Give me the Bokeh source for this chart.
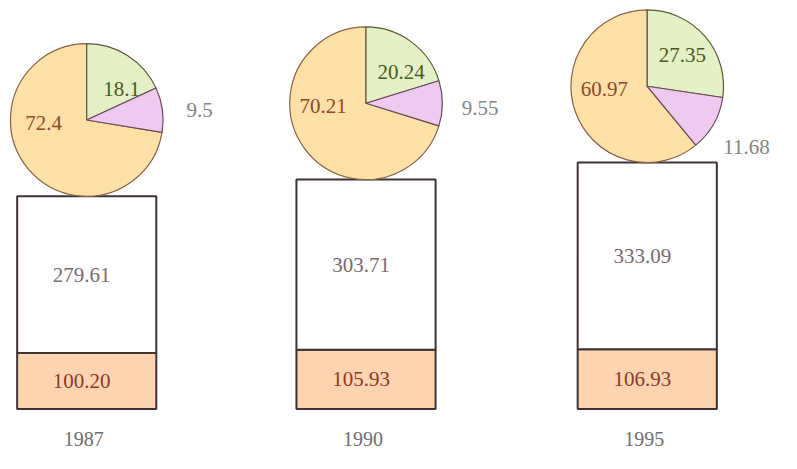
import math
from bokeh.plotting import figure
from bokeh.models import Range1d
from bokeh.core.properties import value
from bokeh.embed import file_html
from bokeh.resources import INLINE

# ---- data ----
years = ["1987", "1990", "1995"]
lower_values = [100.20, 105.93, 106.93]      # orange (bottom) bar segment
upper_values = [279.61, 303.71, 333.09]      # white (top) bar segment
pie_green = [18.1, 20.24, 27.35]
pie_purple = [9.5, 9.55, 11.68]
pie_orange = [72.4, 70.21, 60.97]

# ---- layout ----
PLOT_W, PLOT_H = 781, 453
REF_W, REF_H = 797, 469
BAR_X = [88, 373, 660]
BAR_W = 142
K = 0.58               # ref px per unit
BASE_FROM_BOTTOM = 46  # ref px
R_REF = 79
R_PX = R_REF * PLOT_H / REF_H
FONT = value("Liberation Serif")

y_start = -BASE_FROM_BOTTOM / K
y_end = y_start + REF_H / K

p = figure(width=PLOT_W, height=PLOT_H, output_backend="svg", toolbar_location=None,
           x_range=Range1d(0, REF_W), y_range=Range1d(y_start, y_end),
           min_border=0, background_fill_color="white", border_fill_color="white")
p.axis.visible = False
p.grid.visible = False
p.outline_line_color = None

totals = [a + b for a, b in zip(lower_values, upper_values)]

# bars
p.vbar(x=BAR_X, width=BAR_W, bottom=0, top=lower_values,
       fill_color="#FDD3B0", line_color="#3d3333", line_width=2)
p.vbar(x=BAR_X, width=BAR_W, bottom=lower_values, top=totals,
       fill_color="white", line_color="#3d3333", line_width=2)

# bar labels
p.text(x=BAR_X, y=[v / 2 for v in lower_values], text=[f"{v:.2f}" for v in lower_values],
       text_font=FONT, text_font_size="21px", text_color="#8B3A2A",
       text_align="center", text_baseline="middle", x_offset=-5)
p.text(x=BAR_X, y=[a + b / 2 for a, b in zip(lower_values, upper_values)],
       text=[f"{v:.2f}" for v in upper_values],
       text_font=FONT, text_font_size="21px", text_color="#7a6a70",
       text_align="center", text_baseline="middle", x_offset=-5)

# year labels
p.text(x=BAR_X, y=[0, 0, 0], text=years, text_font=FONT, text_font_size="20px",
       text_color="#6e6e6e", text_align="center", text_baseline="middle", y_offset=30,
       x_offset=-3)

# pies
cy = [t + R_REF / K for t in totals]
top = math.pi / 2
g_end = [top - 2 * math.pi * g / 100 for g in pie_green]
p_end = [top - 2 * math.pi * (g + q) / 100 for g, q in zip(pie_green, pie_purple)]
o_end = [top - 2 * math.pi for _ in pie_orange]

p.wedge(x=BAR_X, y=cy, radius=R_PX, radius_units="screen",
        start_angle=o_end, end_angle=p_end, fill_color="#FFE0A6",
        line_color="#8a6048", line_width=1.2)
p.wedge(x=BAR_X, y=cy, radius=R_PX, radius_units="screen",
        start_angle=g_end, end_angle=[top] * 3, fill_color="#E4F0C6",
        line_color="#5a5a3a", line_width=1.2)
p.wedge(x=BAR_X, y=cy, radius=R_PX, radius_units="screen",
        start_angle=p_end, end_angle=g_end, fill_color="#EECAEE",
        line_color="#6a4a5a", line_width=1.2)

# pie labels
p.text(x=BAR_X, y=cy, text=[str(v) for v in pie_green], text_font=FONT,
       text_font_size="21px", text_color="#4a5a22", text_align="center",
       text_baseline="middle", x_offset=35, y_offset=-31)
p.text(x=BAR_X, y=cy, text=[str(v) for v in pie_orange], text_font=FONT,
       text_font_size="21px", text_color="#8B4A2B", text_align="center",
       text_baseline="middle", x_offset=-43, y_offset=3)
mid = [(a + b) / 2 for a, b in zip(g_end, p_end)]
p.text(x=BAR_X, y=cy, text=[str(v) for v in pie_purple], text_font=FONT,
       text_font_size="21px", text_color="#858585", text_align="center",
       text_baseline="middle",
       x_offset=[114 * math.cos(m) for m in mid],
       y_offset=[-114 * math.sin(m) + 5 for m in mid])

open("out.html", "w").write(file_html(p, INLINE))
